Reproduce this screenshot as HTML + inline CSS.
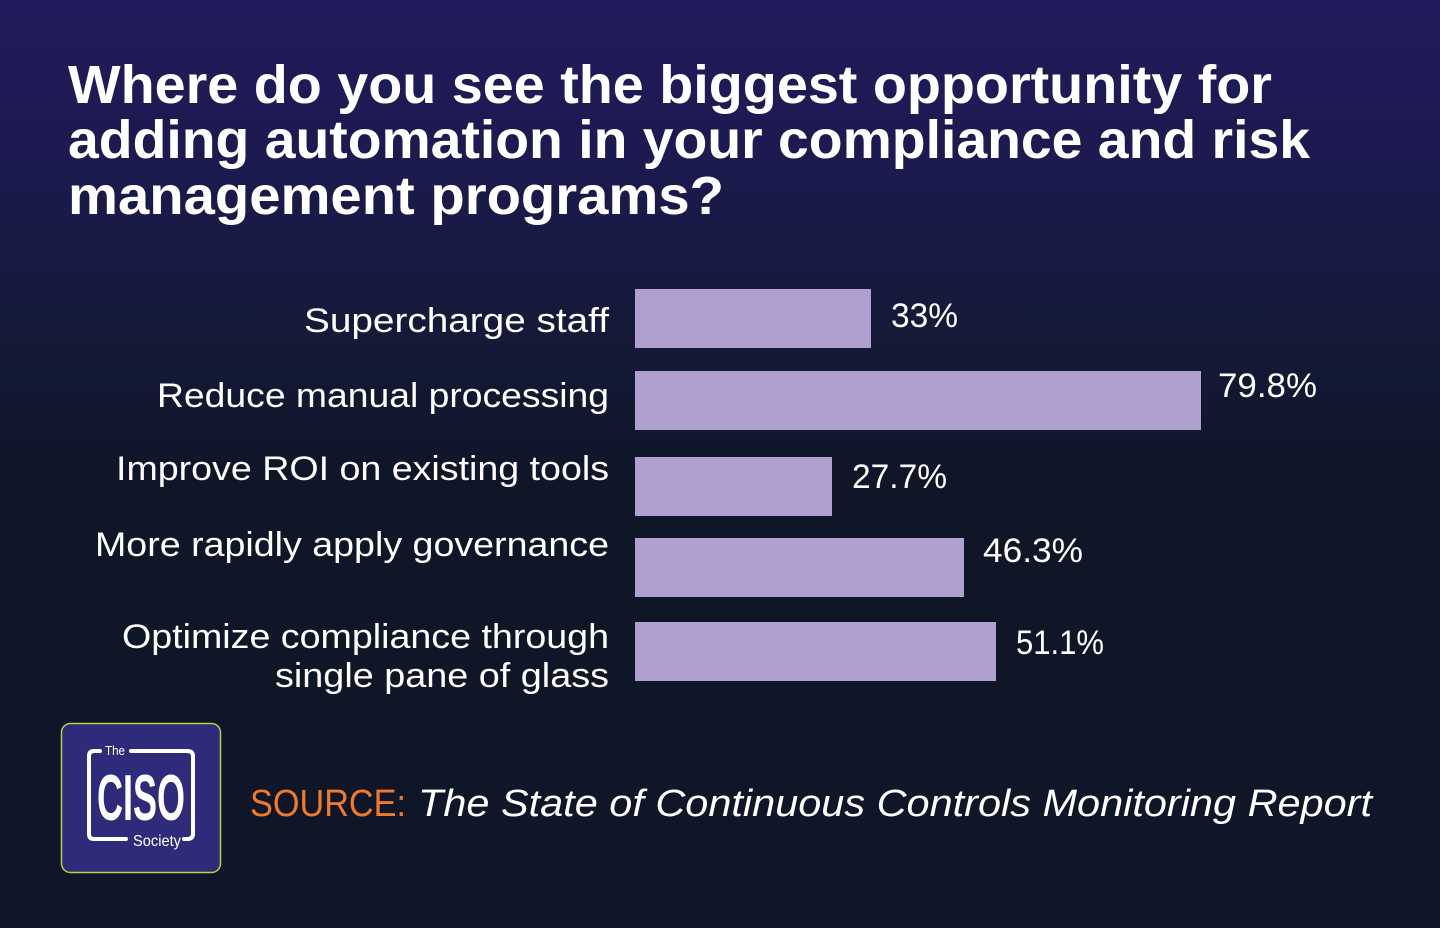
<!DOCTYPE html>
<html><head><meta charset="utf-8"><style>
html,body{margin:0;padding:0;}
body{width:1440px;height:928px;overflow:hidden;background:linear-gradient(180deg,#221b5c 0px,#1c1a50 150px,#141a38 330px,#0f1628 480px,#0e1627 928px);}
svg{display:block}
</style></head><body>
<svg width="1440" height="928" xmlns="http://www.w3.org/2000/svg">
<g font-family="Liberation Sans, sans-serif" font-weight="bold" fill="#ffffff" font-size="54">
<text x="68" y="103" textLength="1204" lengthAdjust="spacingAndGlyphs">Where do you see the biggest opportunity for</text>
<text x="68" y="158" textLength="1242" lengthAdjust="spacingAndGlyphs">adding automation in your compliance and risk</text>
<text x="68" y="214" textLength="656" lengthAdjust="spacingAndGlyphs">management programs?</text>
</g>
<g fill="#b0a0d0">
<rect x="635" y="289" width="236" height="59"/>
<rect x="635" y="371" width="566" height="59"/>
<rect x="635" y="457" width="197" height="59"/>
<rect x="635" y="538" width="329" height="59"/>
<rect x="635" y="622" width="361" height="59"/>
</g>
<g font-family="Liberation Sans, sans-serif" fill="#ffffff" font-size="34" text-anchor="end">
<text x="609" y="332" textLength="305" lengthAdjust="spacingAndGlyphs">Supercharge staff</text>
<text x="609" y="407" textLength="452" lengthAdjust="spacingAndGlyphs">Reduce manual processing</text>
<text x="609" y="480" textLength="493" lengthAdjust="spacingAndGlyphs">Improve ROI on existing tools</text>
<text x="609" y="556" textLength="514" lengthAdjust="spacingAndGlyphs">More rapidly apply governance</text>
<text x="609" y="648" textLength="487" lengthAdjust="spacingAndGlyphs">Optimize compliance through</text>
<text x="609" y="687" textLength="334" lengthAdjust="spacingAndGlyphs">single pane of glass</text>
</g>
<g font-family="Liberation Sans, sans-serif" fill="#ffffff" font-size="34">
<text x="891" y="327" textLength="67" lengthAdjust="spacingAndGlyphs">33%</text>
<text x="1218" y="397" textLength="99" lengthAdjust="spacingAndGlyphs">79.8%</text>
<text x="852" y="488" textLength="95" lengthAdjust="spacingAndGlyphs">27.7%</text>
<text x="983" y="562" textLength="100" lengthAdjust="spacingAndGlyphs">46.3%</text>
<text x="1016" y="654" textLength="88" lengthAdjust="spacingAndGlyphs">51.1%</text>
</g>
<rect x="61.5" y="723.5" width="159" height="149" rx="9" fill="#2e2b7b" stroke="#b8d33a" stroke-width="1.5"/>
<g fill="none" stroke="#ffffff" stroke-width="4" stroke-linecap="round">
<path d="M100 751 L94 751 Q89 751 89 756 L89 834 Q89 839 94 839 L126 839"/>
<path d="M131 751 L187 751 Q193 751 193 756 L193 834 Q193 839 187 839 L184 839"/>
</g>
<text x="105" y="755" font-family="Liberation Sans, sans-serif" font-size="13" fill="#fff" textLength="20" lengthAdjust="spacingAndGlyphs">The</text>
<text transform="translate(141,820) scale(1,1.3)" x="0" y="0" font-family="Liberation Sans, sans-serif" font-weight="bold" font-size="50" fill="#fff" text-anchor="middle" textLength="88" lengthAdjust="spacingAndGlyphs">CISO</text>
<text x="133" y="846" font-family="Liberation Sans, sans-serif" font-size="16" fill="#fff" textLength="48" lengthAdjust="spacingAndGlyphs">Society</text>
<text x="250" y="816" font-family="Liberation Sans, sans-serif" font-size="38" fill="#f07a2a" textLength="156" lengthAdjust="spacingAndGlyphs">SOURCE:</text>
<text x="418" y="816" font-family="Liberation Sans, sans-serif" font-style="italic" font-size="38" fill="#ffffff" textLength="954" lengthAdjust="spacingAndGlyphs">The State of Continuous Controls Monitoring Report</text>
</svg>
</body></html>
